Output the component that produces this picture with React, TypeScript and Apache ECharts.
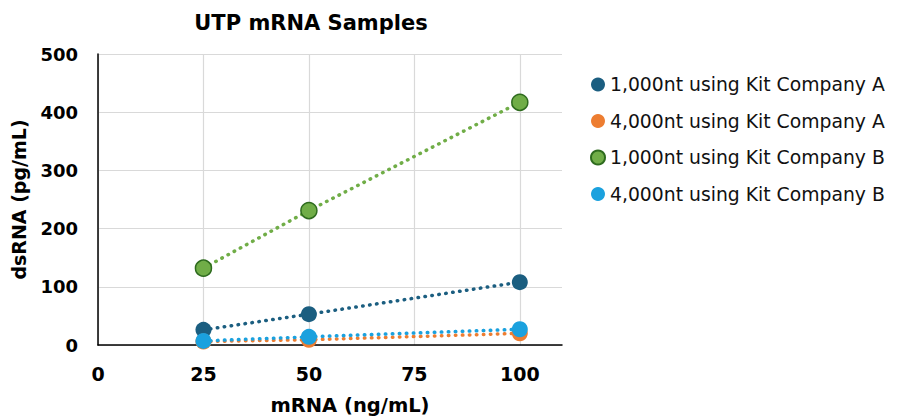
import React, { useEffect, useRef } from "react";
import * as echarts from "echarts";

const xValues = [25, 50, 100];
const seriesNames = [
  "1,000nt using Kit Company A",
  "4,000nt using Kit Company A",
  "1,000nt using Kit Company B",
  "4,000nt using Kit Company B",
];
const kitA1000 = [26, 53, 108];
const kitA4000 = [6, 9, 20];
const kitB1000 = [132, 231, 417];
const kitB4000 = [7, 14, 27];
const seriesValues = [kitA1000, kitA4000, kitB1000, kitB4000];
const colors = ["#1B5E80", "#ED7D31", "#70AD47", "#1BA1DE"];
const borders = ["#1B5E80", "#ED7D31", "#2E6B1E", "#1BA1DE"];

const FONT = "DejaVu Sans";

export default function App() {
  const ref = useRef<HTMLDivElement>(null);
  useEffect(() => {
    document.body.style.margin = "0";
    const chart = echarts.init(ref.current!, null, { renderer: "svg" });
    chart.setOption({
      animation: false,
      textStyle: { fontFamily: FONT },
      title: {
        text: "UTP mRNA Samples",
        left: 306,
        top: 7,
        textAlign: "center",
        textStyle: { fontFamily: FONT, fontSize: 21, fontWeight: "bold", color: "#000" },
      },
      legend: {
        orient: "vertical",
        left: 585,
        top: 70,
        itemGap: 17.5,
        itemWidth: 14,
        itemHeight: 14,
        textStyle: { fontFamily: FONT, fontSize: 18.8, color: "#111" },
        data: seriesNames.map((n) => ({ name: n, icon: "circle" })),
      },
      grid: { left: 98, right: 338, top: 54, bottom: 72 },
      xAxis: {
        type: "value",
        min: 0,
        max: 110,
        interval: 25,
        name: "mRNA (ng/mL)",
        nameLocation: "middle",
        nameGap: 50,
        nameTextStyle: { fontFamily: FONT, fontSize: 19.5, fontWeight: "bold", color: "#000", padding: [0, 0, 0, 40] },
        axisLine: { show: true, lineStyle: { color: "#000", width: 1.5 } },
        axisTick: { show: false },
        axisLabel: { showMaxLabel: false, fontFamily: FONT, fontSize: 19, fontWeight: "bold", color: "#000", margin: 19 },
        splitLine: { show: true, showMaxLine: false, lineStyle: { color: "#D9D9D9", width: 1.2 } },
      },
      yAxis: {
        type: "value",
        min: 0,
        max: 500,
        interval: 100,
        name: "dsRNA (pg/mL)",
        nameLocation: "middle",
        nameGap: 70,
        nameTextStyle: { fontFamily: FONT, fontSize: 19, fontWeight: "bold", color: "#000" },
        axisLine: { show: true, lineStyle: { color: "#000", width: 1.5 } },
        axisTick: { show: false },
        axisLabel: { fontFamily: FONT, fontSize: 18, fontWeight: "bold", color: "#000", margin: 20 },
        splitLine: { show: true, lineStyle: { color: "#D9D9D9", width: 1.2 } },
      },
      series: seriesNames.map((name, i) => ({
        name,
        type: "line",
        data: xValues.map((x, j) => [x, seriesValues[i][j]]),
        symbol: "circle",
        symbolSize: 16,
        itemStyle: { color: colors[i], borderColor: borders[i], borderWidth: i === 2 ? 1.5 : 0 },
        lineStyle: { color: colors[i], width: 3.5, type: [0.5, 6.5], cap: "round" },
        z: 2 + i,
      })),
    });
    return () => chart.dispose();
  }, []);
  return <div ref={ref} style={{ width: 900, height: 420 }} />;
}
